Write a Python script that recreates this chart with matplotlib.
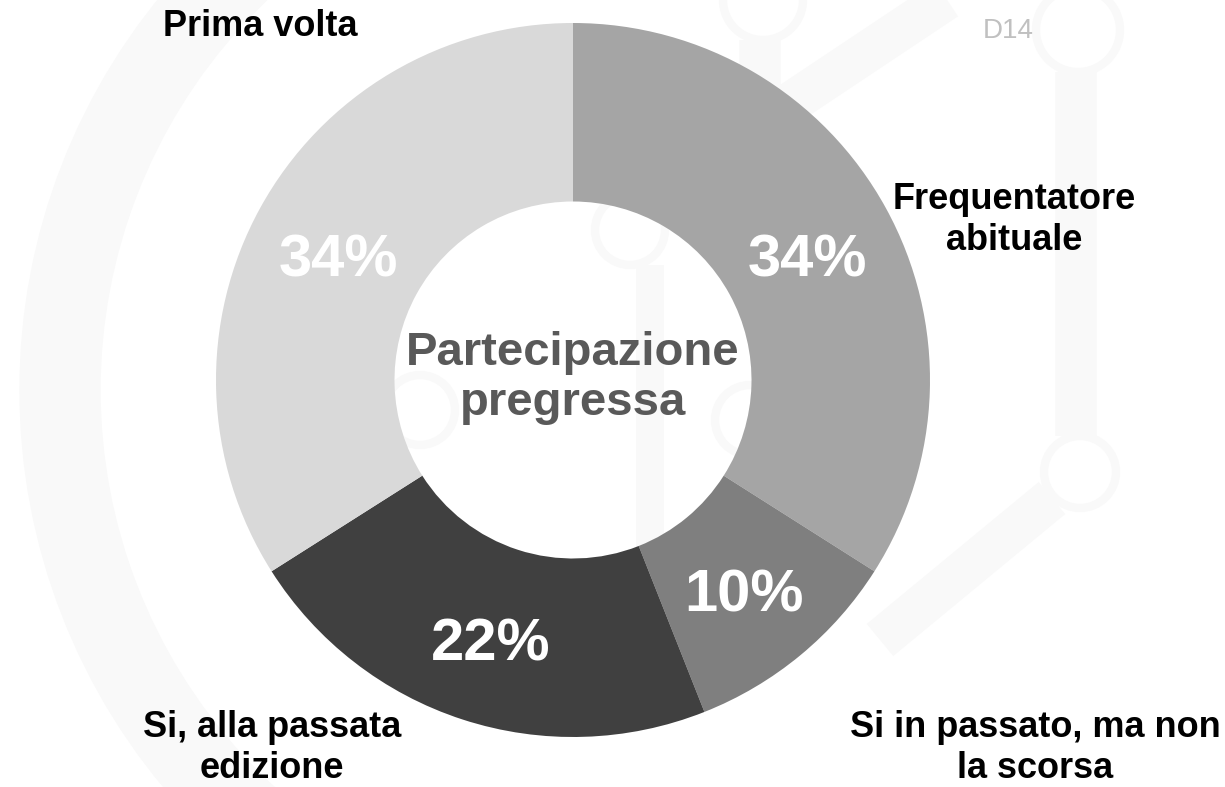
import matplotlib.pyplot as plt
from matplotlib.patches import Wedge, Circle

plt.rcParams['font.family'] = ['Liberation Sans', 'DejaVu Sans']

# dati: partecipazione pregressa (D14)
categories = ["Frequentatore\nabituale", "Si in passato, ma non\nla scorsa",
              "Si, alla passata\nedizione", "Prima volta"]
values = [34, 10, 22, 34]
colors = ["#a5a5a5", "#7f7f7f", "#404040", "#d9d9d9"]
center_title = "Partecipazione\npregressa"
question_code = "D14"

W, H = 1225, 787
fig = plt.figure(figsize=(W / 100, H / 100), dpi=100)
ax = fig.add_axes([0, 0, 1, 1])


def py(y):
    # coordinate y dall'alto verso il basso
    return H - y


# filigrana chiara sullo sfondo
wm = "#f9f9f9"
ax.add_patch(Wedge((640, py(390)), 620, 95, 265, width=80, color=wm, zorder=0))
ax.add_patch(Circle((1078, py(30)), 42, fill=False, lw=6, ec=wm, zorder=0))
ax.plot([1076, 1076], [py(72), py(436)], color=wm, lw=30, solid_capstyle="butt", zorder=0)
ax.add_patch(Circle((1080, py(472)), 36, fill=False, lw=6, ec=wm, zorder=0))
ax.plot([1052, 880], [py(498), py(640)], color=wm, lw=30, solid_capstyle="butt", zorder=0)
ax.add_patch(Circle((763, py(0)), 40, fill=False, lw=6, ec=wm, zorder=0))
ax.plot([760, 760], [py(40), py(100)], color=wm, lw=30, solid_capstyle="butt", zorder=0)
ax.plot([960, 780], [py(-10), py(110)], color=wm, lw=30, solid_capstyle="butt", zorder=0)
ax.add_patch(Circle((630, py(230)), 35, fill=False, lw=6, ec=wm, zorder=0))
ax.plot([650, 650], [py(265), py(560)], color=wm, lw=20, solid_capstyle="butt", zorder=0)
ax.add_patch(Circle((420, py(410)), 35, fill=False, lw=6, ec=wm, zorder=0))
ax.add_patch(Circle((750, py(420)), 35, fill=False, lw=6, ec=wm, zorder=0))

wedges, texts, autotexts = ax.pie(
    values, colors=colors, startangle=90, counterclock=False,
    center=(573, py(380)), radius=357, autopct="%d%%", pctdistance=0.75,
    wedgeprops=dict(width=178.5, linewidth=0), frame=False,
    textprops=dict(color="white", fontsize=43, fontweight="bold"))
for t in autotexts:
    x, y = t.get_position()
    t.set_position((x, y - 10))
    t.set_va("center")

ax.text(573, py(378), center_title, ha="center", va="center", fontsize=34,
        fontweight="bold", color="#595959", linespacing=1.2)

label_pos = [(1014, 220), (1035, 748), (272, 748), (260, 27)]
for lab, (x, y) in zip(categories, label_pos):
    ax.text(x, py(y), lab, ha="center", va="center", fontsize=26,
            fontweight="bold", color="black", linespacing=1.25)

ax.text(1008, py(31), question_code, ha="center", va="center", fontsize=20,
        color="#c0c0c0")

ax.set_xlim(0, W)
ax.set_ylim(0, H)
ax.set_aspect("equal")
ax.axis("off")

fig.savefig("out.png", dpi=100, facecolor="white")
